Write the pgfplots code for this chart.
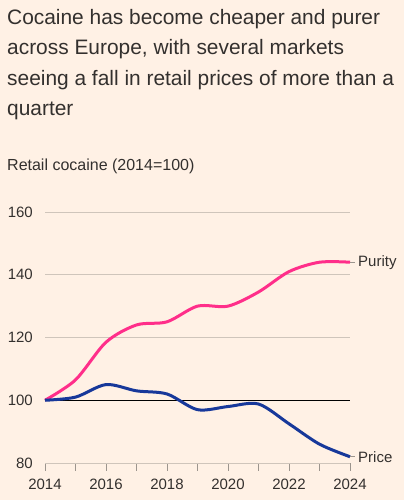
\documentclass[border=0pt]{standalone}
\usepackage{pgfplots}
\pgfplotsset{compat=1.18}
\usepackage{fontspec}
\setmainfont{Liberation Sans}
\definecolor{ftbg}{HTML}{FFF1E5}
\definecolor{purity}{HTML}{FF2E8A}
\definecolor{price}{HTML}{17389A}
\definecolor{gridc}{HTML}{CFC5BB}
\definecolor{tickc}{HTML}{9C958E}
\definecolor{txt}{HTML}{33302E}

\begin{document}
\begin{tikzpicture}
\fill[ftbg] (0pt,0pt) rectangle (404pt,-500pt);
% headline
\begin{scope}[every node/.style={anchor=base west, inner sep=0pt, text=txt, font=\fontsize{20.9}{24}\selectfont}]
\node at (7pt,-24.5pt) {Cocaine has become cheaper and purer};
\node at (7pt,-55pt) {across Europe, with several markets};
\node at (7pt,-85.5pt) {seeing a fall in retail prices of more than a};
\node at (7pt,-116pt) {quarter};
\end{scope}
\node[anchor=base west, inner sep=0pt, text=txt, font=\fontsize{16}{19}\selectfont] at (7pt,-170pt) {Retail cocaine (2014=100)};

\begin{axis}[
  at={(45pt,-463pt)}, anchor=south west,
  scale only axis, width=305pt, height=251pt,
  xmin=2014, xmax=2024, ymin=80, ymax=160,
  xtick={2014,...,2024},
  xticklabels={2014,,2016,,2018,,2020,,2022,,2024},
  ytick={80,100,120,140,160},
  axis x line*=bottom, axis y line*=left,
  y axis line style={draw=none},
  x axis line style={draw=gridc, line width=0.8pt},
  ytick style={draw=none},
  xtick style={draw=tickc, line width=0.8pt},
  xtick align=outside, major tick length=7.5pt,
  ymajorgrids, grid style={draw=gridc, line width=0.8pt},
  /pgf/number format/assume math mode=true,
  /pgf/number format/1000 sep={},
  tick label style={text=txt, font=\fontsize{15}{18}\selectfont},
  yticklabel style={anchor=east, inner sep=0pt, xshift=-12pt},
  xticklabel style={anchor=north, inner sep=0pt, yshift=-8pt},
  clip=false,
]
\draw[black, line width=1.1pt] (axis cs:2014,100) -- (axis cs:2024,100);

% Purity index
\addplot[purity, line width=3pt, smooth, tension=0.5] coordinates {
 (2014,100) (2015,106.5) (2016,118.5) (2017,124) (2018,125) (2019,130)
 (2020,130) (2021,134.5) (2022,141) (2023,144) (2024,144)};
% Price index
\addplot[price, line width=3pt, smooth, tension=0.5] coordinates {
 (2014,100) (2015,101) (2016,105) (2017,103) (2018,102) (2019,97)
 (2020,98) (2021,98.8) (2022,92.5) (2023,86) (2024,82)};

\draw[tickc, line width=0.8pt] (axis cs:2024,144) -- ++(5pt,0pt);
\draw[tickc, line width=0.8pt] (axis cs:2024,82) -- ++(5pt,0pt);
\node[anchor=west, inner sep=0pt, text=txt, font=\fontsize{15}{18}\selectfont] at ([xshift=8pt]axis cs:2024,144) {Purity};
\node[anchor=west, inner sep=0pt, text=txt, font=\fontsize{15}{18}\selectfont] at ([xshift=8pt]axis cs:2024,82) {Price};
\end{axis}
\end{tikzpicture}
\end{document}
